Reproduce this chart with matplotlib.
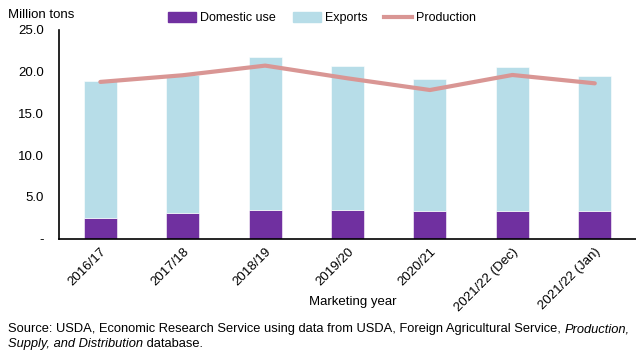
import matplotlib
matplotlib.use('Agg')
import matplotlib.pyplot as plt
from matplotlib.patches import Patch
from matplotlib.lines import Line2D

plt.rcParams['font.family'] = ['Liberation Sans', 'DejaVu Sans']
plt.rcParams['font.size'] = 9.5

years = ['2016/17', '2017/18', '2018/19', '2019/20', '2020/21', '2021/22 (Dec)', '2021/22 (Jan)']
domestic = [2.51, 3.11, 3.44, 3.47, 3.28, 3.32, 3.32]
exports = [16.34, 16.49, 18.36, 17.21, 15.88, 17.21, 16.20]
production = [18.77, 19.57, 20.72, 19.20, 17.80, 19.60, 18.60]
yticks = [0, 5, 10, 15, 20, 25]
ytick_labels = ['-', '5.0', '10.0', '15.0', '20.0', '25.0']

PURPLE = '#7030A0'
BLUE = '#B7DDE8'
PINK = '#D99694'

fig = plt.figure(figsize=(6.36, 3.6), dpi=100)
ax = fig.add_axes([0.093, 0.337, 0.907, 0.58])

x = list(range(len(years)))
ax.bar(x, domestic, width=0.4, color=PURPLE, edgecolor='#ffffff', linewidth=0.4)
ax.bar(x, exports, width=0.4, bottom=domestic, color=BLUE, edgecolor='#ffffff', linewidth=0.4)
ax.plot(x, production, color=PINK, linewidth=3, solid_capstyle='round')

ax.set_xlim(-0.5, len(years) - 0.5)
ax.set_ylim(0, 25)
ax.set_yticks(yticks)
ax.set_yticklabels(ytick_labels, fontsize=9.5)
ax.set_xticks(x)
ax.set_xticklabels(years, rotation=45, ha='right', rotation_mode='anchor', fontsize=9.5)
ax.tick_params(axis='both', length=0)
ax.tick_params(axis='y', pad=11)
ax.tick_params(axis='x', pad=5)
for s in ['top', 'right']:
    ax.spines[s].set_visible(False)
ax.spines['left'].set_linewidth(1.2)
ax.spines['bottom'].set_linewidth(1.2)

fig.text(353 / 636, 1 - 302 / 360, 'Marketing year', fontsize=9.5, ha='center', va='center')
fig.text(0.013, 0.975, 'Million tons', fontsize=9.5, va='top', ha='left')

handles = [Patch(color=PURPLE, label='Domestic use'),
           Patch(color=BLUE, label='Exports'),
           Line2D([0], [0], color=PINK, linewidth=3, label='Production')]
fig.legend(handles=handles, loc='center', bbox_to_anchor=(322 / 636, 0.95), ncol=3, frameon=False,
           fontsize=9, handlelength=2.25, handleheight=0.9, handletextpad=0.3, columnspacing=1.35,
           borderpad=0)

# source note with italic parts
fig.canvas.draw()
renderer = fig.canvas.get_renderer()
line1 = [('Source: USDA, Economic Research Service using data from USDA, Foreign Agricultural Service, ', 'normal'),
         ('Production,', 'italic')]
line2 = [('Supply, and Distribution', 'italic'), (' database.', 'normal')]
for parts, ypos in [(line1, 1 - 332 / 360), (line2, 1 - 347 / 360)]:
    xpos = 0.012
    for txt, style in parts:
        t = fig.text(xpos, ypos, txt, fontsize=9.3, style=style, ha='left', va='baseline')
        bb = t.get_window_extent(renderer)
        xpos += bb.width / fig.bbox.width

fig.savefig('out.png', dpi=100)
